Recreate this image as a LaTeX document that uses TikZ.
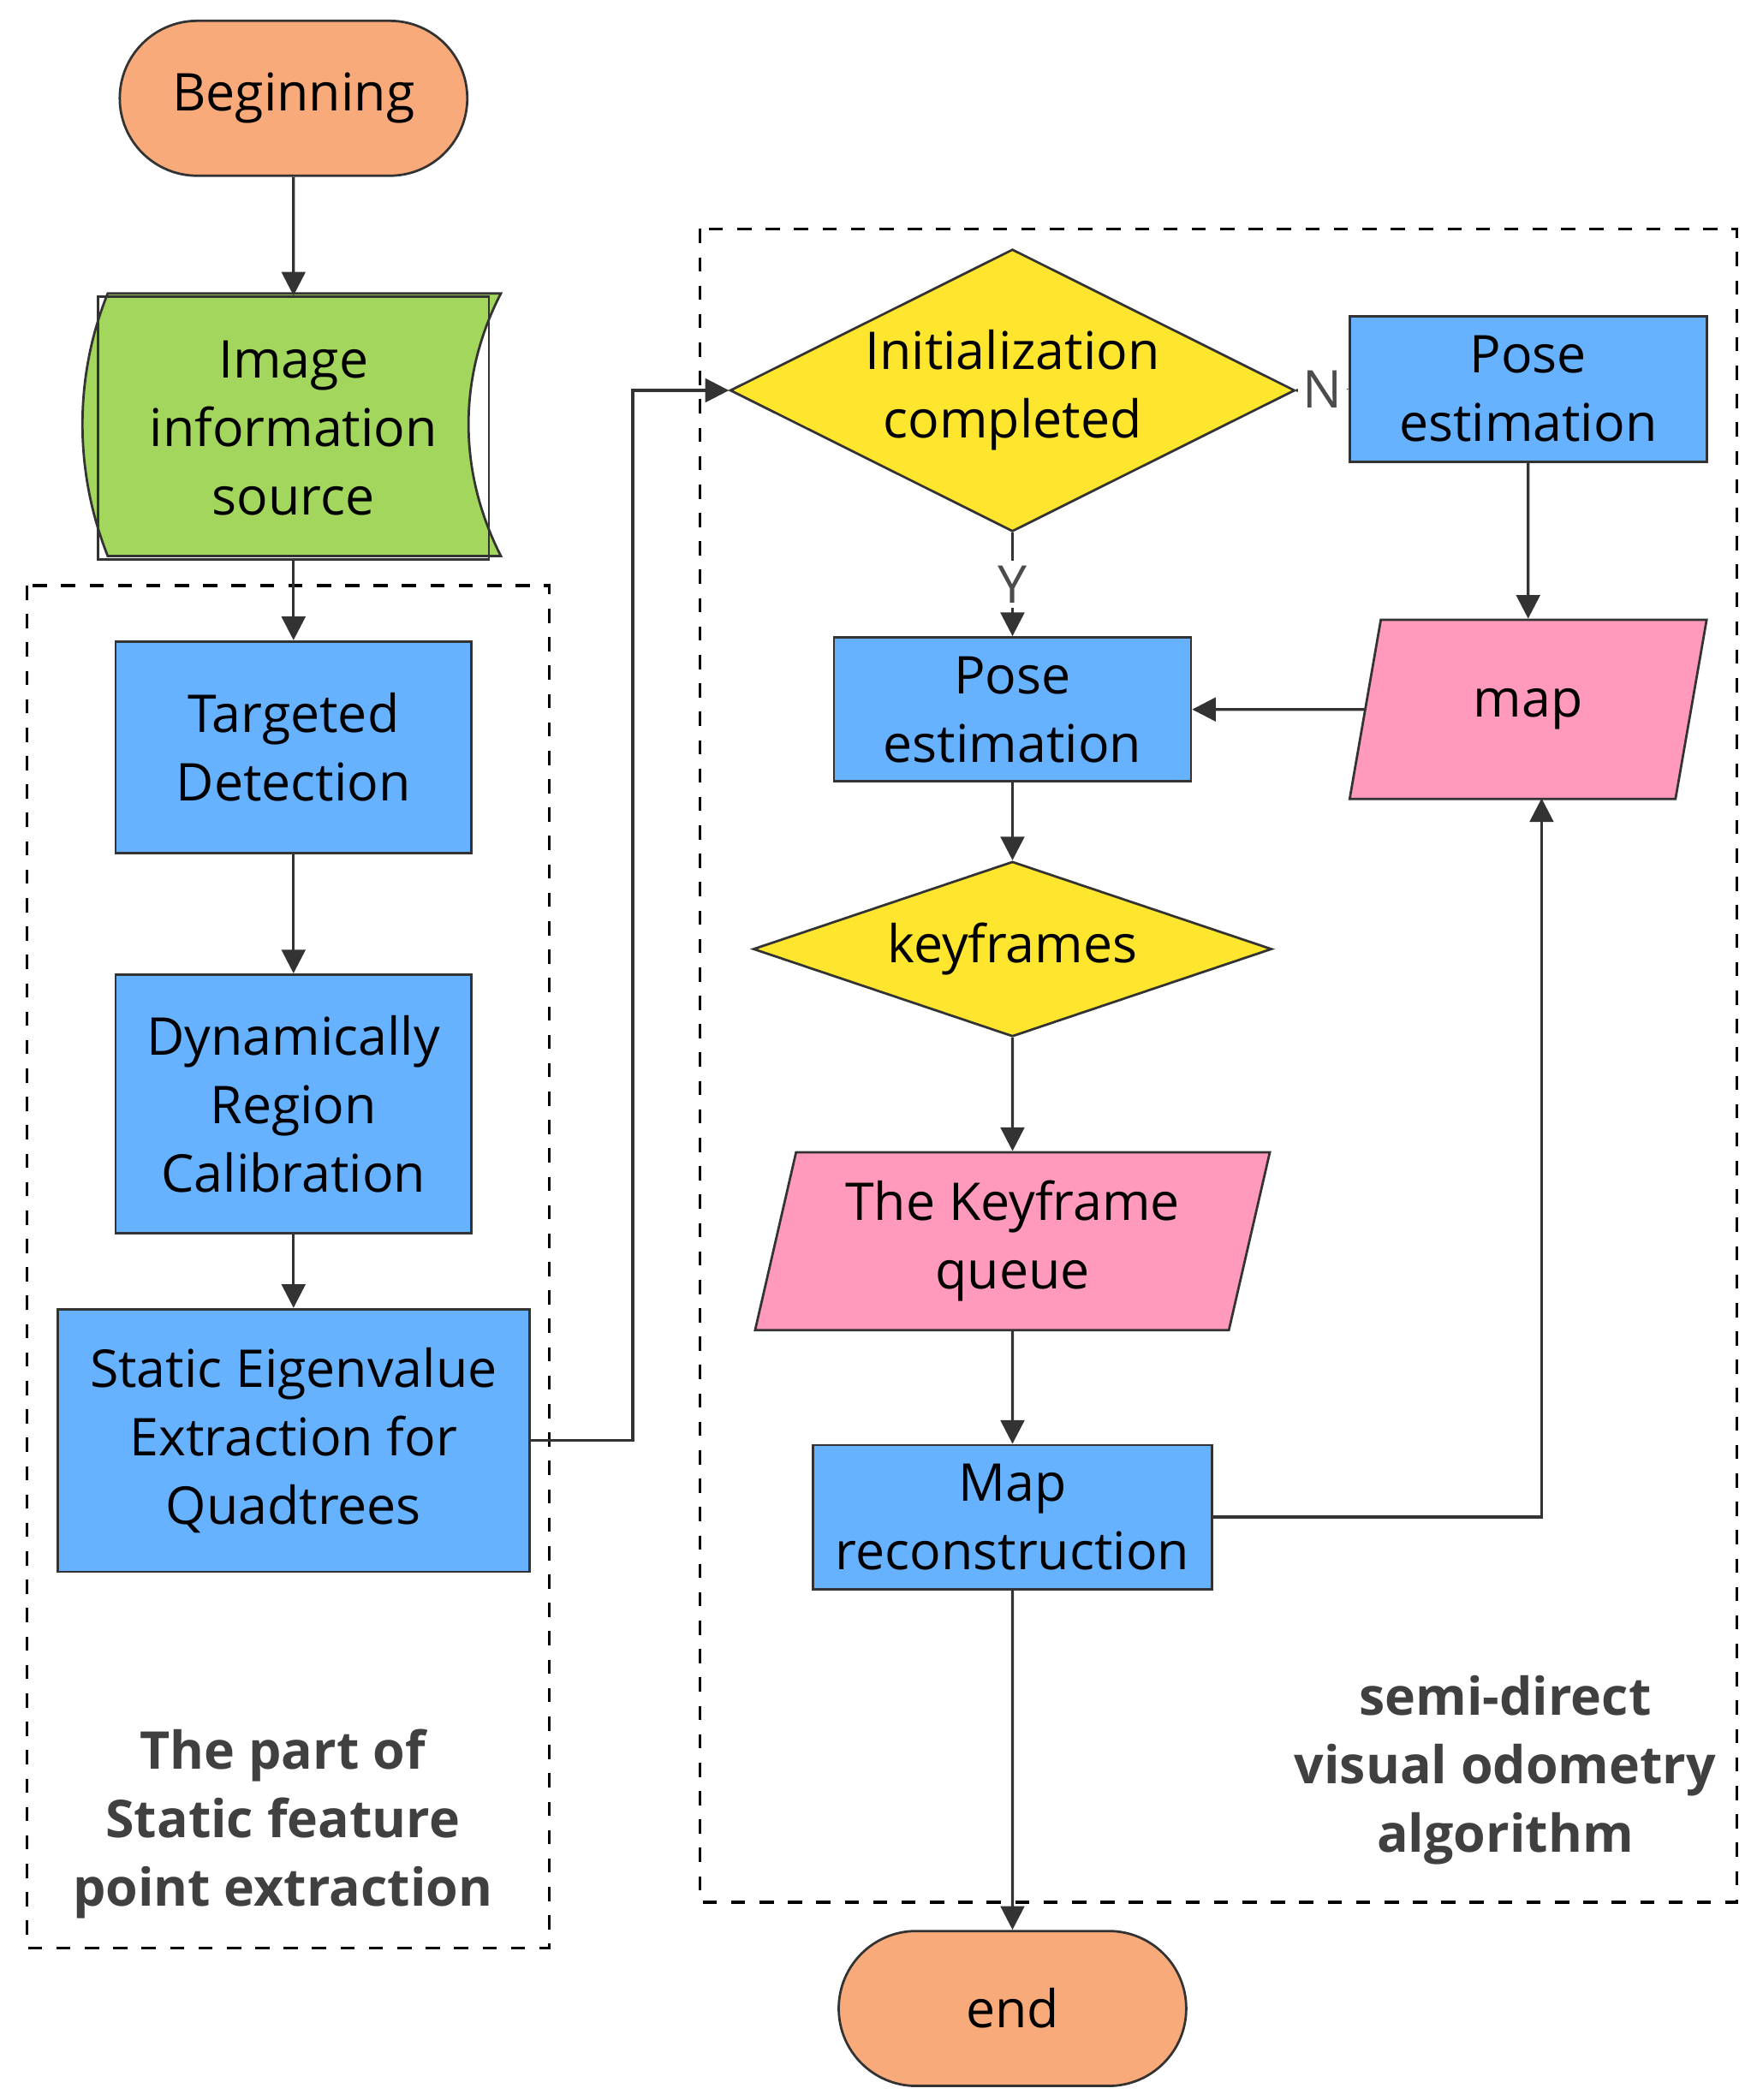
\documentclass[tikz,border=0pt]{standalone}
\usepackage{fontspec}
\setmainfont{Open Sans}
\usetikzlibrary{shapes.geometric,arrows.meta}
\definecolor{cOrange}{HTML}{F9AA7B}
\definecolor{cGreen}{HTML}{A3D65C}
\definecolor{cBlue}{HTML}{66B2FF}
\definecolor{cYellow}{HTML}{FFE62E}
\definecolor{cPink}{HTML}{FF9ABD}
\tikzset{
  base/.style={draw=black!80,line width=0.5pt,align=center,font=\fontsize{11}{14.5}\selectfont,inner sep=1pt},
  term/.style={base,fill=cOrange,rounded rectangle,minimum width=2.65cm,minimum height=1.15cm},
  proc/.style={base,fill=cBlue,rectangle},
  dec/.style={base,fill=cYellow,diamond,aspect=2},
  para/.style={base,fill=cPink,trapezium,trapezium left angle=76,trapezium right angle=104,trapezium stretches=true},
  group/.style={draw,dashed,line width=0.6pt},
  arr/.style={-{Triangle[length=5pt,width=5pt]},line width=0.6pt,black!80},
  note/.style={font=\fontsize{11}{14.5}\selectfont\bfseries,align=center,text=black!75}
}
\usetikzlibrary{shapes.misc}
\begin{document}
\begin{tikzpicture}[x=0.01cm,y=-0.01cm]
  \useasboundingbox (0,0) rectangle (1300,1560);
  % groups
  \draw[group] (20,435) rectangle (408,1447);
  \draw[group] (520,170) rectangle (1290,1413);
  % left column
  \node[term] (begin) at (218,73) {Beginning};
  \fill[cGreen,draw=black!80,line width=0.5pt] (80,218) -- (372,218)
    .. controls (340,280) and (340,350) .. (372,413) -- (80,413)
    .. controls (55,350) and (55,280) .. (80,218) -- cycle;
  \node[base,minimum width=2.9cm,minimum height=1.95cm] (src) at (218,318) {Image\\information\\source};
  \node[proc,minimum width=2.64cm,minimum height=1.57cm] (detect) at (218,555) {Targeted\\Detection};
  \node[proc,minimum width=2.64cm,minimum height=1.92cm] (calib) at (218,820) {Dynamically\\Region\\Calibration};
  \node[proc,minimum width=3.5cm,minimum height=1.95cm] (extract) at (218,1070) {Static Eigenvalue\\Extraction for\\Quadtrees};
  \node[note] (lnote) at (210,1355) {The part of\\Static feature\\point extraction};
  % right part
  \node[dec,minimum width=3.85cm,minimum height=1.95cm] (init) at (752,290) {Initialization\\completed};
  \node[proc,minimum width=2.65cm,minimum height=1.08cm] (pose1) at (1135,289) {Pose\\estimation};
  \node[para,minimum width=2.65cm,minimum height=1.33cm] (map) at (1135,527) {map};
  \node[proc,minimum width=2.65cm,minimum height=1.07cm] (pose2) at (752,527) {Pose\\estimation};
  \node[dec,minimum width=3.85cm,minimum height=1.3cm,aspect=3] (key) at (752,705) {keyframes};
  \node[para,minimum width=3.85cm,minimum height=1.32cm] (queue) at (752,922) {The Keyframe\\queue};
  \node[proc,minimum width=2.96cm,minimum height=1.07cm] (recon) at (752,1127) {Map\\reconstruction};
  \node[term] (end) at (752,1492) {end};
  \node[note] (rnote) at (1118,1315) {semi-direct\\visual odometry\\algorithm};
  % connectors
  \draw[arr] (begin) -- (src);
  \draw[arr] (src) -- (detect);
  \draw[arr] (detect) -- (calib);
  \draw[arr] (calib) -- (extract);
  \draw[arr] (extract.east) -- (470,1070) -- (470,290) -- (init.west);
  \draw[arr] (init.east) -- node[fill=white,inner sep=1pt,font=\fontsize{11}{13}\selectfont,text=black!70] (nlab) {N} (pose1.west);
  \draw[arr] (init.south) -- node[fill=white,inner sep=1pt,font=\fontsize{11}{13}\selectfont,text=black!70] (ylab) {Y} (pose2.north);
  \draw[arr] (pose1) -- (map);
  \draw[arr] (map) -- (pose2);
  \draw[arr] (pose2) -- (key);
  \draw[arr] (key) -- (queue);
  \draw[arr] (queue) -- (recon);
  \draw[arr] (recon) -- (end);
  \draw[arr] (recon.east) -- (1145,1127) -- (1145,593);
\end{tikzpicture}
\end{document}
